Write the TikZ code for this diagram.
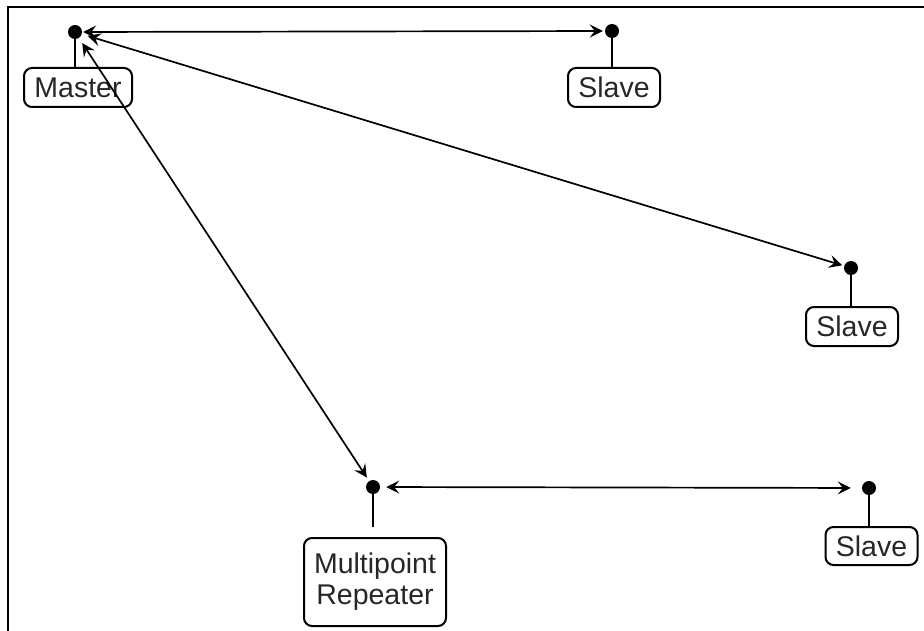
\documentclass[tikz,border=0pt]{standalone}
\usepackage{fontspec}
\setmainfont{Liberation Sans}
\usetikzlibrary{arrows.meta}
\begin{document}
\begin{tikzpicture}[x=1pt,y=-1pt,
  dot/.style={circle,fill=black,inner sep=0pt,minimum size=14pt},
  lbl/.style={draw,rounded corners=8pt,line width=2pt,inner sep=0pt,
    font=\fontsize{28.5}{31}\selectfont,align=center,text=black!85},
  stem/.style={line width=2.2pt},
  tip/.tip={Stealth[length=13pt,width=13pt,inset=5pt]},
  link/.style={line width=1.7pt,tip-tip},
  frame/.style={line width=2.4pt}]
\useasboundingbox (0,0) rectangle (924,631);
\coordinate (fa) at (8,631);
\coordinate (fb) at (8,7);
\coordinate (fc) at (924,7);
\draw[frame] (fa) -- (fb) -- (fc);
% dots
\node[dot] (m) at (75,32) {};
\node[dot] (s1) at (612,31) {};
\node[dot] (s2) at (851,268) {};
\node[dot] (r) at (373,487) {};
\node[dot] (s3) at (869,488) {};
% labels
\node[lbl,minimum width=108pt,minimum height=39pt] (lm) at (78,87.5) {Master};
\node[lbl,minimum width=92pt,minimum height=39pt] (ls1) at (614,87.5) {Slave};
\node[lbl,minimum width=92pt,minimum height=39pt] (ls2) at (852,326.5) {Slave};
\node[lbl,minimum width=142pt,minimum height=88pt] (lr) at (375,582) {Multipoint\\Repeater};
\node[lbl,minimum width=92pt,minimum height=38pt] (ls3) at (871.5,546) {Slave};
% stems
\draw[stem] (m.center) -- (m.center |- lm.north);
\draw[stem] (s1.center) -- (s1.center |- ls1.north);
\draw[stem] (s2.center) -- (s2.center |- ls2.north);
\coordinate (rs) at (373,527);
\draw[stem] (r.center) -- (rs);
\draw[stem] (s3.center) -- (s3.center |- ls3.north);
% links
\draw[link,shorten <=1pt,shorten >=2pt] (m) -- (s1);
\draw[link,shorten <=6pt,shorten >=2pt] (m) -- (s2);
\draw[link,shorten <=6pt,shorten >=4pt] (m) -- (r);
\draw[link,shorten <=6pt,shorten >=11pt] (r) -- (s3);
\end{tikzpicture}
\end{document}
